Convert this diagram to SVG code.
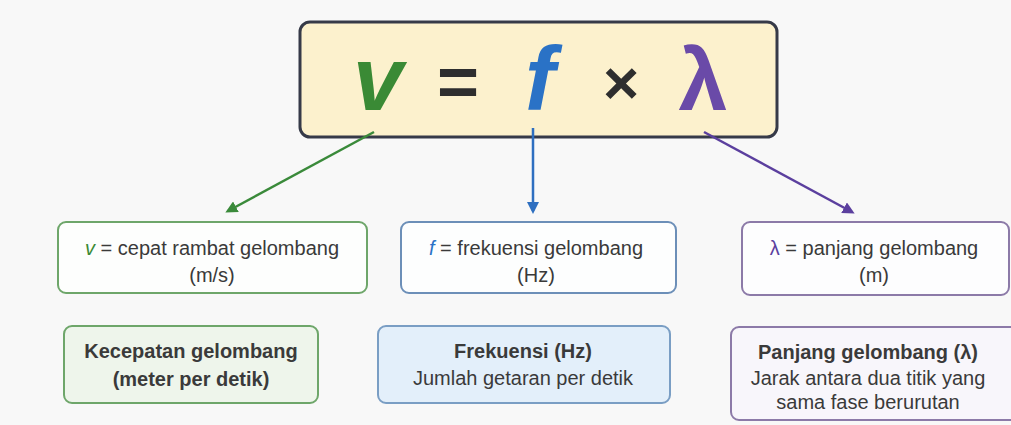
<svg xmlns="http://www.w3.org/2000/svg" width="1011" height="425" viewBox="0 0 1011 425">
<defs>
<style>
.t{font-family:"Liberation Sans",Arial,sans-serif;font-size:20px;fill:#3a3a3a;text-anchor:middle}
.b{font-weight:bold}
.eq{font-family:"Liberation Sans",Arial,sans-serif;font-weight:bold;text-anchor:middle}
.box{stroke-width:2}
</style>
<marker id="ag" markerWidth="12" markerHeight="12" refX="9" refY="6" orient="auto" markerUnits="userSpaceOnUse"><path d="M0,0 L12,6 L0,12 z" fill="#3a8a3a"/></marker>
<marker id="ab" markerWidth="12" markerHeight="12" refX="9" refY="6" orient="auto" markerUnits="userSpaceOnUse"><path d="M0,0 L12,6 L0,12 z" fill="#2e6fc0"/></marker>
<marker id="ap" markerWidth="12" markerHeight="12" refX="9" refY="6" orient="auto" markerUnits="userSpaceOnUse"><path d="M0,0 L12,6 L0,12 z" fill="#5b3f9e"/></marker>
</defs>
<rect width="1011" height="425" fill="#f8f8f8"/>
<g id="formula">
<rect x="300" y="22" width="477" height="115" rx="10" fill="#fcf1cd" stroke="#363a48" stroke-width="3"/>
<text class="eq" x="378" y="110" font-size="90" font-style="italic" fill="#3a8a35">v</text>
<text class="eq" x="458" y="106" font-size="72" fill="#2e2e2e">=</text>
<text class="eq" x="540" y="110" font-size="90" font-style="italic" fill="#2a72c6">f</text>
<text class="eq" x="621" y="104" font-size="62" fill="#2e2e2e">×</text>
<text class="eq" x="703" y="110" font-size="88" fill="#6a4aa8">λ</text>
</g>
<g id="connectors" stroke-width="2.5" fill="none">
<line x1="374" y1="132" x2="228" y2="211" stroke="#3a8a3a" marker-end="url(#ag)"/>
<line x1="533" y1="128" x2="533" y2="211" stroke="#2e6fc0" marker-end="url(#ab)"/>
<line x1="704" y1="132" x2="852" y2="212" stroke="#5b3f9e" marker-end="url(#ap)"/>
</g>
<g id="def-v">
<rect class="box" x="58" y="222" width="309" height="71" rx="8" fill="#fdfefd" stroke="#6ea66a"/>
<text class="t" x="212" y="255"><tspan fill="#3a8a35" font-style="italic">v</tspan> = cepat rambat gelombang</text>
<text class="t" x="212" y="282">(m/s)</text>
</g>
<g id="def-f">
<rect class="box" x="401" y="222" width="275" height="71" rx="8" fill="#fdfefe" stroke="#6c8fb8"/>
<text class="t" x="536" y="255"><tspan fill="#2a72c6" font-style="italic">f</tspan> = frekuensi gelombang</text>
<text class="t" x="536" y="282">(Hz)</text>
</g>
<g id="def-lambda">
<rect class="box" x="742" y="222" width="267" height="73" rx="8" fill="#fdfdfe" stroke="#8c7aa8"/>
<text class="t" x="874" y="255"><tspan fill="#5b3f9e">λ</tspan> = panjang gelombang</text>
<text class="t" x="874" y="282">(m)</text>
</g>
<g id="info-v">
<rect class="box" x="64" y="326" width="254" height="77" rx="8" fill="#eef5eb" stroke="#6ea66a"/>
<text class="t b" x="191" y="358" fill="#2e4a2e">Kecepatan gelombang</text>
<text class="t b" x="191" y="386" fill="#2e4a2e">(meter per detik)</text>
</g>
<g id="info-f">
<rect class="box" x="378" y="326" width="292" height="77" rx="8" fill="#e3effa" stroke="#7a9ec4"/>
<text class="t b" x="523" y="358" fill="#2c4e7e">Frekuensi (Hz)</text>
<text class="t" x="523" y="385">Jumlah getaran per detik</text>
</g>
<g id="info-lambda">
<rect class="box" x="731" y="327" width="290" height="93" rx="8" fill="#f8f6fb" stroke="#8c7aa8"/>
<text class="t b" x="868" y="359" fill="#57397e">Panjang gelombang (λ)</text>
<text class="t" x="868" y="385">Jarak antara dua titik yang</text>
<text class="t" x="868" y="409">sama fase berurutan</text>
</g>
</svg>
